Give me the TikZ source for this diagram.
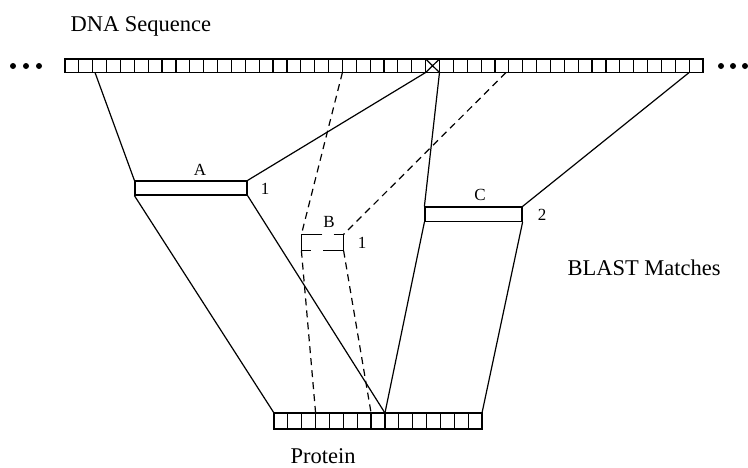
\documentclass[tikz,border=0pt]{standalone}
\usepackage{fontspec}
\setmainfont{Liberation Serif}
\begin{document}
\begin{tikzpicture}[x=1pt,y=-1pt, line width=1.2pt,
  box/.style={draw, rectangle, inner sep=0pt, minimum width=#1},
  dsh/.style={dash pattern=on 7pt off 5pt},
  lbl/.style={font=\fontsize{17}{20}\selectfont, inner sep=0pt},
  ttl/.style={font=\fontsize{22.5}{26}\selectfont, inner sep=0pt, anchor=base west},
  dot/.style={circle, fill, inner sep=0pt, minimum size=6pt}]
\useasboundingbox (0,0) rectangle (748,467);
% DNA bar
\node[box=638.02pt, minimum height=13.5pt] (dna) at (384.01,65.75) {};
\foreach \i in {1,...,45} \draw ({65+\i*13.87},59) -- ({65+\i*13.87},72.5);
\draw ({65+26*13.87},59) -- ({65+27*13.87},72.5) ({65+27*13.87},59) -- ({65+26*13.87},72.5);
% protein bar
\node[box=208.05pt, minimum height=16pt] (prot) at (378.03,421) {};
\foreach \i in {1,...,14} \draw ({274+\i*13.87},413) -- ({274+\i*13.87},429);
% dots
\foreach \x [count=\k] in {13,26,39} \node[dot] (l\k) at (\x,66) {};
\foreach \x [count=\k] in {721,733,745} \node[dot] (r\k) at (\x,66) {};
% attachment coordinates
\coordinate (dL) at (95,72.5);
\coordinate (xL) at ({65+26*13.87},72.5);
\coordinate (xR) at ({65+27*13.87},72.5);
\coordinate (d20) at ({65+20*13.87},72.5);
\coordinate (d32) at (506,72.5);
\coordinate (d45) at ({65+45*13.87},72.5);
\coordinate (p0) at (274,413);
\coordinate (p3) at ({274+3*13.87},413);
\coordinate (p7) at ({274+7*13.87},413);
\coordinate (p8) at ({274+8*13.87},413);
\coordinate (p15) at (482,413);
% boxes
\node[box=112pt, minimum height=14pt] (A) at (191,188) {};
\node[box=97pt, minimum height=14.5pt] (C) at (473.5,214.25) {};
\node[rectangle, inner sep=0pt, minimum width=41pt, minimum height=15pt] (B) at (322.5,242.5) {};
\draw ([xshift=21pt]B.north west) -- (B.north west) -- (B.south west) -- ([xshift=10pt]B.south west);
\draw ([xshift=-10pt]B.north east) -- (B.north east) -- (B.south east) -- ([xshift=-21pt]B.south east);
% labels
\node[lbl] (la) at (200,170) {A};
\node[lbl] (n1a) at (265,189) {1};
\node[lbl] (lb) at (329,222) {B};
\node[lbl] (n1b) at (362,243) {1};
\node[lbl] (lc) at (480,195) {C};
\node[lbl] (n2c) at (542,215) {2};
\node[ttl] (t1) at (70,31) {DNA Sequence};
\node[ttl] (t2) at (567,275) {BLAST Matches};
\node[ttl] (t3) at (290,463) {Protein};
% solid connectors
\draw (dL) -- (A.north west);
\draw (A.north east) -- (xL);
\draw (xR) -- (C.north west);
\draw (C.north east) -- (d45);
\draw (A.south west) -- (p0);
\draw (A.south east) -- (p8);
\draw (C.south west) -- (p8);
\draw (C.south east) -- (p15);
% dashed connectors
\draw[dsh] (d20) -- (B.north west);
\draw[dsh] (d32) -- (B.north east);
\draw[dsh] (B.south west) -- (p3);
\draw[dsh] (B.south east) -- (p7);
\end{tikzpicture}
\end{document}
